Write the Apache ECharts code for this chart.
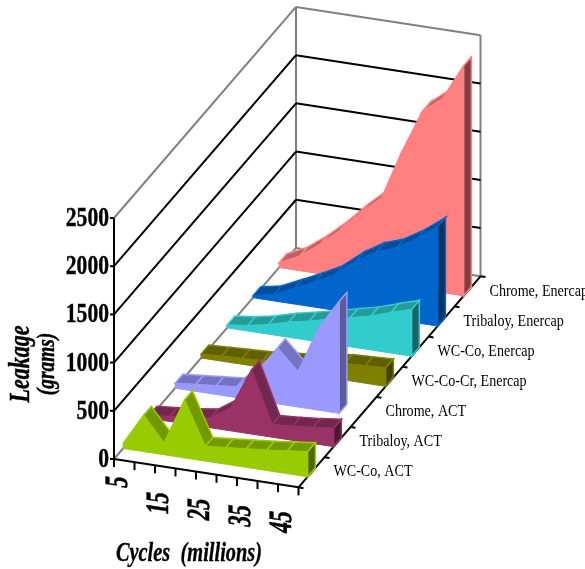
<!DOCTYPE html>
<html>
<head>
<meta charset="utf-8">
<title>Leakage</title>
<script src="https://cdn.jsdelivr.net/npm/echarts@6/dist/echarts.min.js"></script>
<style>
  html, body { margin: 0; padding: 0; background: #fff; }
  #chart { width: 585px; height: 569px; }
</style>
</head>
<body>
<div id="chart"></div>
<script>
// data
var cycles = [5, 10, 15, 20, 25, 30, 35, 40, 45, 50];
var cycleLabels = ['5', '', '15', '', '25', '', '35', '', '45', ''];
var leakageTicks = [0, 500, 1000, 1500, 2000, 2500];
var materials = ['WC-Co, ACT', 'Tribaloy, ACT', 'Chrome, ACT', 'WC-Co-Cr, Enercap', 'WC-Co, Enercap', 'Tribaloy, Enercap', 'Chrome, Enercap'];

var wcCoAct = [50, 375, 120, 600, 150, 170, 190, 210, 235, 260];
var tribaloyAct = [30, 50, 70, 100, 240, 665, 130, 145, 165, 190];
var chromeAct = [50, 70, 90, 110, 300, 580, 365, 850, 1160];
var wcCoCrEnercap = [40, 50, 60, 70, 90, 110, 140, 170, 180, 190];
var wcCoEnercap = [30, 55, 97, 155, 200, 250, 300, 350, 420, 485];
var tribaloyEnercap = [20, 60, 160, 260, 370, 540, 670, 745, 875, 1030];
var chromeEnercap = [50, 150, 305, 490, 700, 885, 1400, 1850, 2020, 2385];

var seriesValues = [wcCoAct, tribaloyAct, chromeAct, wcCoCrEnercap, wcCoEnercap, tribaloyEnercap, chromeEnercap];

// front, top, end cap
var frontColors = ['#99cc00', '#993366', '#9999ff', '#808000', '#33cccc', '#0066cc', '#ff8080'];
var topColors = ['#739900', '#732650', '#7373bf', '#606000', '#269999', '#004d99', '#bf6060'];
var capColors = ['#4d6600', '#4d1a33', '#5c5c99', '#404000', '#1a6666', '#003366', '#804040'];

// oblique projection of the 3d box
var ORIGIN_X = 114, ORIGIN_Y = 459;
var STEP_X = 20.5, STEP_Y = 3.15;
var DEPTH_X = 26, DEPTH_Y = -30.15;
var VALUE_PX = 241 / 2500;
var RIBBON_FRONT = 0.35, RIBBON_BACK = 0.65;

var SERIF = '"Liberation Serif", "Times New Roman", serif';
var LAST_I = cycles.length - 1;
var DEPTHS = materials.length;
var TOP_VALUE = leakageTicks[leakageTicks.length - 1];

function project(api, i, d, v) {
    return api.coord([
        ORIGIN_X + i * STEP_X + d * DEPTH_X,
        ORIGIN_Y + i * STEP_Y + d * DEPTH_Y - v * VALUE_PX
    ]);
}

function line(a, b, color, width) {
    return {
        type: 'line',
        shape: { x1: a[0], y1: a[1], x2: b[0], y2: b[1] },
        style: { stroke: color, lineWidth: width }
    };
}

function renderFrame(params, api) {
    var out = [];
    // walls and floor
    out.push(line(project(api, 0, 0, 0), project(api, 0, DEPTHS, 0), '#808080', 2));
    out.push(line(project(api, 0, DEPTHS, 0), project(api, LAST_I, DEPTHS, 0), '#808080', 2));
    out.push(line(project(api, 0, DEPTHS, 0), project(api, 0, DEPTHS, TOP_VALUE), '#808080', 2));
    out.push(line(project(api, LAST_I, DEPTHS, 0), project(api, LAST_I, DEPTHS, TOP_VALUE), '#808080', 2));
    out.push(line(project(api, 0, 0, TOP_VALUE), project(api, 0, DEPTHS, TOP_VALUE), '#808080', 2));
    out.push(line(project(api, 0, DEPTHS, TOP_VALUE), project(api, LAST_I, DEPTHS, TOP_VALUE), '#808080', 2));

    // gridlines and value ticks
    leakageTicks.forEach(function (v) {
        if (v > 0 && v < TOP_VALUE) {
            out.push(line(project(api, 0, 0, v), project(api, 0, DEPTHS, v), '#000', 2));
            out.push(line(project(api, 0, DEPTHS, v), project(api, LAST_I, DEPTHS, v), '#000', 2));
        }
        var p = project(api, 0, 0, v);
        out.push(line([p[0] - 4, p[1]], p, '#000', 2));
        out.push({
            type: 'text', x: p[0] - 5, y: p[1] + 1, scaleX: 0.8,
            style: { text: String(v), font: 'bold 27px ' + SERIF, fill: '#000', stroke: '#000', lineWidth: 0.4, align: 'right', verticalAlign: 'middle' }
        });
    });
    return { type: 'group', children: out };
}

function renderAxes(params, api) {
    var out = [];
    out.push(line(project(api, 0, 0, 0), project(api, 0, 0, TOP_VALUE), '#000', 2));
    out.push(line(project(api, 0, 0, 0), project(api, LAST_I, 0, 0), '#000', 2));
    out.push(line(project(api, LAST_I, 0, 0), project(api, LAST_I, DEPTHS, 0), '#000', 2));

    cycles.forEach(function (c, i) {
        var p = project(api, i, 0, 0);
        out.push(line(p, [p[0], p[1] + 8], '#000', 2));
        if (cycleLabels[i]) {
            out.push({
                type: 'text', x: p[0] + 4.5, y: p[1] + 8 + 15 * cycleLabels[i].length,
                rotation: Math.PI / 2, scaleX: 0.83, scaleY: 1.25, skewX: Math.atan(-STEP_Y / STEP_X),
                style: { text: cycleLabels[i], font: 'bold 26px ' + SERIF, fill: '#000', stroke: '#000', lineWidth: 0.4, align: 'center', verticalAlign: 'middle' }
            });
        }
    });

    for (var k = 0; k <= DEPTHS; k++) {
        var q = project(api, LAST_I, k, 0);
        out.push(line(q, [q[0] + 5, q[1] + 0.8], '#000', 2));
        if (k < DEPTHS) {
            var m = project(api, LAST_I, k + 0.5, 0);
            out.push({
                type: 'text', x: m[0] + 22, y: m[1], scaleX: 0.88,
                style: { text: materials[k], font: '16px ' + SERIF, fill: '#000', align: 'left', verticalAlign: 'middle' }
            });
        }
    }

    // axis titles
    out.push({
        type: 'text', x: 22, y: 364, rotation: Math.PI / 2, scaleX: 0.88, scaleY: 1.15,
        style: { text: 'Leakage', font: 'italic bold 25px ' + SERIF, fill: '#000', stroke: '#000', lineWidth: 0.4, align: 'center', verticalAlign: 'middle' }
    });
    out.push({
        type: 'text', x: 47, y: 364, rotation: Math.PI / 2, scaleX: 0.88, scaleY: 1.15,
        style: { text: '(grams)', font: 'italic bold 22px ' + SERIF, fill: '#000', stroke: '#000', lineWidth: 0.4, align: 'center', verticalAlign: 'middle' }
    });
    out.push({
        type: 'text', x: 189, y: 554, scaleX: 0.85, scaleY: 1.1,
        style: { text: 'Cycles  (millions)', font: 'italic bold 24px ' + SERIF, fill: '#000', stroke: '#000', lineWidth: 0.3, align: 'center', verticalAlign: 'middle' }
    });
    return { type: 'group', children: out };
}

function makeRibbon(k) {
    return function (params, api) {
        var values = seriesValues[k];
        var front = frontColors[k], top = topColors[k], cap = capColors[k];
        var d0 = k + RIBBON_FRONT, d1 = k + RIBBON_BACK;
        var last = values.length - 1;
        var out = [];

        // top facets, left to right
        for (var i = 0; i < last; i++) {
            out.push({
                type: 'polygon',
                shape: { points: [
                    project(api, i, d0, values[i]),
                    project(api, i + 1, d0, values[i + 1]),
                    project(api, i + 1, d1, values[i + 1]),
                    project(api, i, d1, values[i])
                ] },
                style: { fill: top, stroke: front, lineWidth: 1.5 }
            });
        }
        // end cap
        out.push({
            type: 'polygon',
            shape: { points: [
                project(api, last, d0, 0),
                project(api, last, d0, values[last]),
                project(api, last, d1, values[last]),
                project(api, last, d1, 0)
            ] },
            style: { fill: cap, stroke: front, lineWidth: 1.5 }
        });
        // front face
        var pts = values.map(function (v, i) { return project(api, i, d0, v); });
        pts.push(project(api, last, d0, 0));
        pts.push(project(api, 0, d0, 0));
        out.push({
            type: 'polygon',
            shape: { points: pts },
            style: { fill: front, stroke: front, lineWidth: 1 }
        });
        return { type: 'group', children: out };
    };
}

var chart = echarts.init(document.getElementById('chart'));

var series = [{ type: 'custom', silent: true, animation: false, clip: false, renderItem: renderFrame, data: [[0, 0]], z: 1 }];
for (var k = DEPTHS - 1; k >= 0; k--) {
    series.push({
        type: 'custom',
        name: materials[k],
        silent: true,
        animation: false,
        clip: false,
        renderItem: makeRibbon(k),
        data: [[0, 0]],
        z: 2 + DEPTHS - k
    });
}
series.push({ type: 'custom', silent: true, animation: false, clip: false, renderItem: renderAxes, data: [[0, 0]], z: 1 });

var option = {
    backgroundColor: '#fff',
    animation: false,
    tooltip: { show: false },
    grid: { left: 0, right: 0, top: 0, bottom: 0 },
    xAxis: { type: 'value', min: 0, max: 585, show: false },
    yAxis: { type: 'value', min: 0, max: 569, inverse: true, show: false },
    series: series
};

chart.setOption(option);
</script>
</body>
</html>
